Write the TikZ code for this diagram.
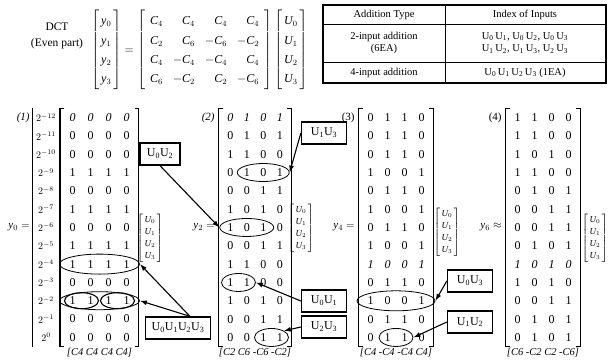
\documentclass[tikz,border=0pt]{standalone}
\usepackage{amsmath}
\usepackage{fontspec}
\setmainfont{Liberation Serif}
\usetikzlibrary{matrix,shapes.geometric,arrows.meta,positioning,calc}

\newcommand{\bitfont}{\fontsize{12}{14}\selectfont}
\newcommand{\Ui}[1]{U\textsubscript{#1}}
\newcommand{\Uu}[1]{\mathit{U}_{#1}}
\newcommand{\Cc}[1]{\mathit{C}_{#1}}
\newcommand{\yy}[1]{\mathit{y}_{#1}}
\newcommand{\uvec}{\fontsize{9}{11}\selectfont$\renewcommand{\arraystretch}{1.1}\left[\begin{array}{@{\,}c@{\,}}\Uu0\\ \Uu1\\ \Uu2\\ \Uu3\end{array}\right]$}
% square brackets round a matrix node
\newcommand{\sqbr}[1]{%
  \draw[bracket] ([xshift=4pt]#1.north west) -- (#1.north west) -- (#1.south west) -- ([xshift=4pt]#1.south west);
  \draw[bracket] ([xshift=-4pt]#1.north east) -- (#1.north east) -- (#1.south east) -- ([xshift=-4pt]#1.south east);}

\tikzset{
  bit/.style={font=\bitfont, minimum height=18.3pt, inner sep=0pt},
  bitmat/.style={matrix of nodes, nodes={bit}, row sep=0pt, column sep=0pt, inner xsep=3pt, inner ysep=0pt},
  ring/.style={draw, ellipse, line width=0.8pt, inner sep=0pt, minimum height=18pt},
  tag/.style={draw, line width=1.3pt, font=\bitfont, inner xsep=6pt, minimum width=45pt, minimum height=22pt},
  pointer/.style={line width=1.1pt, -{Latex[length=7pt,width=5pt]}},
  bracket/.style={line width=0.8pt},
  clab/.style={font=\fontsize{10.5}{12}\selectfont\itshape, inner sep=1pt},
  numlab/.style={font=\fontsize{11}{13}\selectfont, anchor=east, inner sep=1pt},
  cell/.style={font=\fontsize{10.5}{12.5}\selectfont, align=center, inner sep=1pt},
}

\begin{document}
\begin{tikzpicture}[x=1pt,y=1pt,yscale=-1]
\useasboundingbox (0,0) rectangle (614,360);

% top equation
\node[font=\fontsize{11.5}{16}\selectfont, align=center] (dct) at (57,36) {DCT\\(Even part)};
\node[anchor=west, font=\fontsize{12}{14}\selectfont, inner sep=0pt] (eq) at (91,50)
  {$\renewcommand{\arraystretch}{1.38}\left[\begin{array}{@{\,}c@{\,}}\yy0\\ \yy1\\ \yy2\\ \yy3\end{array}\right]
   =\setlength{\arraycolsep}{5pt}\left[\begin{array}{rrrr}
   \Cc4 & \Cc4 & \Cc4 & \Cc4\\
   \Cc2 & \Cc6 & -\Cc6 & -\Cc2\\
   \Cc4 & -\Cc4 & -\Cc4 & \Cc4\\
   \Cc6 & -\Cc2 & \Cc2 & -\Cc6
   \end{array}\right]\setlength{\arraycolsep}{2pt}\left[\begin{array}{c}\Uu0\\ \Uu1\\ \Uu2\\ \Uu3\end{array}\right]$};

% table
\draw[line width=1.2pt] (323,5) rectangle (606,83);
\draw[line width=0.6pt] (445,5) -- (445,83);
\draw[line width=0.6pt] (323,24) -- (606,24);
\draw[line width=0.6pt] (323,62) -- (606,62);
\node[cell] (h1) at (384,14.5) {Addition Type};
\node[cell] (h2) at (525,14.5) {Index of Inputs};
\node[cell] (a1) at (384,43) {2-input addition\\(6EA)};
\node[cell] (a2) at (525,43) {\Ui0\,\Ui1, \Ui0\,\Ui2, \Ui0\,\Ui3\\\Ui1\,\Ui2, \Ui1\,\Ui3, \Ui2\,\Ui3};
\node[cell] (b1) at (384,72.5) {4-input addition};
\node[cell] (b2) at (525,72.5) {\Ui0\,\Ui1\,\Ui2\,\Ui3 (1EA)};

% (1) y0
\matrix (pw) [bitmat, nodes={minimum width=20pt, font=\fontsize{10}{12}\selectfont}] at (46,227.5) {
$2^{-12}$\\ $2^{-11}$\\ $2^{-10}$\\ $2^{-9}$\\ $2^{-8}$\\ $2^{-7}$\\ $2^{-6}$\\
$2^{-5}$\\ $2^{-4}$\\ $2^{-3}$\\ $2^{-2}$\\ $2^{-1}$\\ $2^{0}$\\
};
\draw[bracket] (pw.north west) -- (pw.south west);
\draw[line width=0.5pt] (pw.north east) -- (pw.south east);
\matrix (bits1) [bitmat, nodes={minimum width=18pt}, row 1/.style={nodes={font=\bitfont\itshape}}] at (99.5,227.5) {
0 & 0 & 0 & 0 \\
0 & 0 & 0 & 0 \\
0 & 0 & 0 & 0 \\
1 & 1 & 1 & 1 \\
0 & 0 & 0 & 0 \\
1 & 1 & 1 & 1 \\
0 & 0 & 0 & 0 \\
1 & 1 & 1 & 1 \\
1 & 1 & 1 & 1 \\
0 & 0 & 0 & 0 \\
1 & 1 & 1 & 1 \\
0 & 0 & 0 & 0 \\
0 & 0 & 0 & 0 \\
};
\sqbr{bits1}
\node[numlab, font=\fontsize{11}{13}\selectfont\itshape] (n1) at ([xshift=-2pt]pw.west |- pw-1-1) {(1)};
\node[numlab] (y0) at ([xshift=-2pt]pw.west |- pw-7-1) {$\yy0 =$};
\node[clab, below=0pt of bits1] (c1) {[C4 C4 C4 C4]};
\node (uv1) at (150,238) {\uvec};

% (2) y2
\matrix (bits2) [bitmat, nodes={minimum width=16.5pt}, row 1/.style={nodes={font=\bitfont\itshape}}] at (255,227.5) {
0 & 1 & 0 & 1 \\
0 & 1 & 0 & 1 \\
1 & 1 & 0 & 0 \\
0 & 1 & 0 & 1 \\
0 & 0 & 1 & 1 \\
1 & 0 & 1 & 0 \\
1 & 0 & 1 & 0 \\
0 & 0 & 1 & 1 \\
1 & 1 & 0 & 0 \\
1 & 1 & 0 & 0 \\
1 & 0 & 1 & 0 \\
0 & 0 & 1 & 1 \\
0 & 0 & 1 & 1 \\
};
\sqbr{bits2}
\node[numlab, font=\fontsize{11}{13}\selectfont\itshape] (n2) at ([xshift=-3pt]bits2.west |- bits2-1-1) {(2)};
\node[numlab] (y2) at ([xshift=-3pt]bits2.west |- bits2-7-1) {$\yy2 =$};
\node[clab, below=0pt of bits2] (c2) {[C2 C6 -C6 -C2]};
\node (uv2) at (301,228) {\uvec};

% (3) y4
\matrix (bits3) [bitmat, nodes={minimum width=17pt}, row 9/.style={nodes={font=\bitfont\itshape}}] at (396,227.5) {
0 & 1 & 1 & 0 \\
0 & 1 & 1 & 0 \\
0 & 1 & 1 & 0 \\
1 & 0 & 0 & 1 \\
0 & 1 & 1 & 0 \\
1 & 0 & 0 & 1 \\
0 & 1 & 1 & 0 \\
1 & 0 & 0 & 1 \\
1 & 0 & 0 & 1 \\
0 & 1 & 1 & 0 \\
1 & 0 & 0 & 1 \\
0 & 1 & 1 & 0 \\
0 & 1 & 1 & 0 \\
};
\sqbr{bits3}
\node[numlab] (n3) at ([xshift=-3pt]bits3.west |- bits3-1-1) {(3)};
\node[numlab] (y4) at ([xshift=-3pt]bits3.west |- bits3-7-1) {$\yy4 =$};
\node[clab, below=0pt of bits3] (c3) {[C4 -C4 -C4 C4]};
\node (uv3) at (447,232) {\uvec};

% (4) y6
\matrix (bits4) [bitmat, nodes={minimum width=17pt}, row 9/.style={nodes={font=\bitfont\itshape}}] at (543,227.5) {
1 & 1 & 0 & 0 \\
1 & 1 & 0 & 0 \\
1 & 0 & 1 & 0 \\
1 & 1 & 0 & 0 \\
0 & 1 & 0 & 1 \\
0 & 0 & 1 & 1 \\
0 & 0 & 1 & 1 \\
0 & 1 & 0 & 1 \\
1 & 0 & 1 & 0 \\
1 & 0 & 1 & 0 \\
0 & 0 & 1 & 1 \\
0 & 1 & 0 & 1 \\
0 & 1 & 0 & 1 \\
};
\sqbr{bits4}
\node[numlab] (n4) at ([xshift=-3pt]bits4.west |- bits4-1-1) {(4)};
\node[numlab] (y6) at ([xshift=-3pt]bits4.west |- bits4-7-1) {$\yy6 \approx$};
\node[clab, below=0pt of bits4] (c4) {[C6 -C2 C2 -C6]};
\node (uv4) at (595,238) {\uvec};

% groups
\node[ring, minimum width=80pt, minimum height=20pt] (g1a) at ($(bits1-9-1)!.5!(bits1-9-4)$) {};
\node[ring, minimum width=80pt] (g1b) at ($(bits1-11-1)!.5!(bits1-11-4)$) {};
\node[ring, line width=1.1pt, minimum width=34pt, minimum height=16pt] (g1c) at ($(bits1-11-1)!.5!(bits1-11-2)$) {};
\node[ring, line width=1.1pt, minimum width=34pt, minimum height=16pt] (g1d) at ($(bits1-11-3)!.5!(bits1-11-4)$) {};
\node[ring, minimum width=52pt] (g2a) at ($(bits2-4-2)!.5!(bits2-4-4)$) {};
\node[ring, minimum width=54pt] (g2b) at ($(bits2-7-1)!.5!(bits2-7-3)$) {};
\node[ring, minimum width=34pt] (g2c) at ($(bits2-10-1)!.5!(bits2-10-2)$) {};
\node[ring, minimum width=34pt] (g2d) at ($(bits2-13-3)!.5!(bits2-13-4)$) {};
\node[ring, minimum width=78pt, minimum height=20pt] (g3a) at ($(bits3-11-1)!.5!(bits3-11-4)$) {};
\node[ring, minimum width=34pt] (g3b) at ($(bits3-13-2)!.5!(bits3-13-3)$) {};

% labels
\node[tag] (t0123) at (178,328) {\Ui0\Ui1\Ui2\Ui3};
\node[tag, minimum width=40pt] (t02) at (160,154) {\Ui0\Ui2};
\node[tag] (t13) at (324,133) {\Ui1\Ui3};
\node[tag] (t01) at (324,301) {\Ui0\Ui1};
\node[tag] (t23) at (324,327) {\Ui2\Ui3};
\node[tag] (t03) at (470,281) {\Ui0\Ui3};
\node[tag] (t12) at (470,322) {\Ui1\Ui2};

\draw[pointer] ([xshift=12pt]t0123.north) -- (g1a.east);
\draw[pointer] ([xshift=12pt]t0123.north) -- (g1b.east);
\draw[pointer] (t02.south) -- (g2b.west);
\draw[pointer] (t13.west) -- (g2a.east);
\draw[pointer] (t01.west) -- (g2c.east);
\draw[pointer] (t23.west) -- (g2d.north east);
\draw[pointer] (t03.west) -- (g3a.east);
\draw[pointer] (t12.west) -- (g3b.east);

\end{tikzpicture}
\end{document}
